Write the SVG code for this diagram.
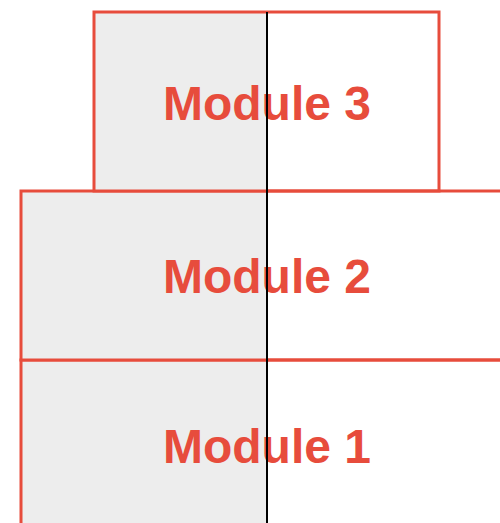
<svg xmlns="http://www.w3.org/2000/svg" width="500" height="523" viewBox="0 0 500 523">
<style>
.box{fill:none;stroke:#e74c3c;stroke-width:3}
.shade{fill:#ededed}
.lbl{font-family:"Liberation Sans",Arial,sans-serif;font-weight:bold;font-size:48px;fill:#e74c3c;text-anchor:middle}
</style>
<rect width="500" height="523" fill="#ffffff"/>
<g id="module1">
<rect class="shade" x="21" y="360" width="246" height="170"/>
<rect class="box" x="21" y="360" width="500" height="180"/>
<text class="lbl" x="267" y="463">Module 1</text>
</g>
<g id="module2">
<rect class="shade" x="21" y="191" width="246" height="169"/>
<rect class="box" x="21" y="191" width="500" height="169"/>
<text class="lbl" x="267" y="293">Module 2</text>
</g>
<g id="module3">
<rect class="shade" x="94" y="12" width="173" height="179"/>
<rect class="box" x="94" y="12" width="345" height="179"/>
<text class="lbl" x="267" y="120">Module 3</text>
</g>
<g id="connectors">
<line x1="267" y1="12" x2="267" y2="523" stroke="#000" stroke-width="2"/>
</g>
</svg>
